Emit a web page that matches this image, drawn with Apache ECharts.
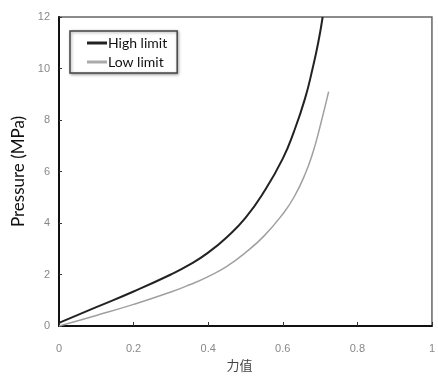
<!DOCTYPE html>
<html><head><meta charset="utf-8">
<script src="https://cdn.jsdelivr.net/npm/echarts@6/dist/echarts.min.js"></script>
<style>html,body{margin:0;padding:0;background:#fff}#c{width:438px;height:378px}</style>
</head><body><div id="c"></div>
<script>
var highX = [0, 0.1, 0.2, 0.3, 0.35, 0.4, 0.45, 0.5, 0.55, 0.6, 0.63, 0.66, 0.68, 0.695, 0.707];
var highY = [0.12, 0.73, 1.34, 2.0, 2.38, 2.85, 3.45, 4.2, 5.22, 6.5, 7.55, 8.85, 10.0, 11.0, 12];
var lowX = [0, 0.1, 0.2, 0.3, 0.35, 0.4, 0.45, 0.5, 0.55, 0.6, 0.63, 0.66, 0.68, 0.7, 0.723];
var lowY = [0, 0.41, 0.84, 1.32, 1.6, 1.92, 2.32, 2.85, 3.5, 4.35, 5.0, 5.9, 6.7, 7.75, 9.1];
var seriesNames = ['High limit', 'Low limit'];
var xTicks = ['0', '0.2', '0.4', '0.6', '0.8', '1'];
var yTicks = ['0', '2', '4', '6', '8', '10', '12'];

function pairs(xs, ys) { return xs.map(function (x, i) { return [x, ys[i]]; }); }

var chart = echarts.init(document.getElementById('c'));
chart.setOption({
  animation: false,
  backgroundColor: '#fff',
  grid: { left: 59, right: 1, top: 17, bottom: 52, show: true, borderColor: '#666', borderWidth: 1.5 },
  legend: {
    orient: 'vertical', left: 70, top: 31,
    itemWidth: 20, itemHeight: 3, itemGap: 5,
    padding: [5, 10, 4, 17],
    borderColor: '#444', borderWidth: 1.5,
    backgroundColor: '#fff',
    shadowColor: 'rgba(0,0,0,0.35)', shadowBlur: 3, shadowOffsetX: 1, shadowOffsetY: 1,
    textStyle: { fontFamily: 'Lato', fontSize: 14, color: '#111', padding: [0, 0, 0, -4] },
    data: [{ name: seriesNames[0], icon: 'rect' }, { name: seriesNames[1], icon: 'rect' }]
  },
  xAxis: {
    type: 'value', min: 0, max: 1, interval: 0.2,
    name: '力值', nameLocation: 'middle', nameGap: 31,
    nameTextStyle: { fontFamily: 'Noto Sans CJK SC', fontSize: 13, color: '#444', padding: [0, 12, 0, 0] },
    axisLine: { show: true, lineStyle: { color: '#111', width: 2 } },
    axisTick: { show: true, inside: true, length: 4, lineStyle: { color: '#333' } },
    axisLabel: { fontFamily: 'Liberation Sans', fontSize: 11, color: '#888', margin: 17,
      formatter: function (v) { var i = Math.round(v / 0.2); return xTicks[i]; } },
    splitLine: { show: false }
  },
  yAxis: {
    type: 'value', min: 0, max: 12, interval: 2,
    name: 'Pressure (MPa)', nameLocation: 'middle', nameGap: 29,
    nameTextStyle: { fontFamily: 'Lato', fontSize: 17, color: '#111' },
    axisLine: { show: true, lineStyle: { color: '#111', width: 2 } },
    axisTick: { show: true, inside: true, length: 3, lineStyle: { color: '#333' } },
    axisLabel: { fontFamily: 'Liberation Sans', fontSize: 11, color: '#888', margin: 9,
      formatter: function (v) { return yTicks[Math.round(v / 2)]; } },
    splitLine: { show: false }
  },
  series: [
    { name: seriesNames[0], type: 'line', smooth: 0.5, showSymbol: false, symbol: 'none',
      data: pairs(highX, highY), color: '#222', lineStyle: { color: '#222', width: 2 }, clip: true },
    { name: seriesNames[1], type: 'line', smooth: 0.5, showSymbol: false, symbol: 'none',
      data: pairs(lowX, lowY), color: '#aaa', lineStyle: { color: '#a0a0a0', width: 1.5 }, clip: true }
  ]
});
</script></body></html>
